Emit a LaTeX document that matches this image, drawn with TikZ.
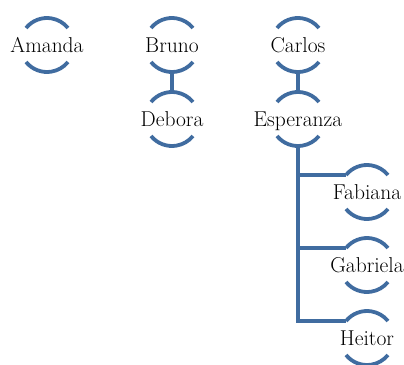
\documentclass[tikz,border=0pt]{standalone}
\usepackage{fontspec}
\usetikzlibrary{calc}
\definecolor{linkblue}{RGB}{64,108,160}
\tikzset{
  person/.style={inner sep=0pt, text height=14.5pt, text depth=0pt,
    font=\fontsize{21.5}{25}\selectfont},
  bracket/.style={draw=linkblue, line width=3.8pt},
  link/.style={draw=linkblue, line width=4.2pt}
}
% top and bottom arcs round a name
\newcommand{\caps}[1]{%
  \draw[bracket] ([shift={(141:27pt)}]#1.center) arc (141:39:27pt);
  \draw[bracket] ([shift={(219:27pt)}]#1.center) arc (219:321:27pt);
}
\begin{document}
\begin{tikzpicture}[x=1pt,y=-1pt]
\useasboundingbox (0,0) rectangle (404,364);
\node[person] (amanda) at (47,45) {Amanda};
\node[person] (bruno) at (172,45) {Bruno};
\node[person] (debora) at (172,119) {Debora};
\node[person] (carlos) at (298,45) {Carlos};
\node[person] (esperanza) at (298,119) {Esperanza};
\node[person] (fabiana) at (367,192) {Fabiana};
\node[person] (gabriela) at (367,265) {Gabriela};
\node[person] (heitor) at (367,338) {Heitor};
\foreach \n in {amanda,bruno,debora,carlos,esperanza,fabiana,gabriela,heitor}{\caps{\n}}
% couples
\draw[link] ([yshift=-27pt]bruno.center) -- ([yshift=27pt]debora.center);
\draw[link] ([yshift=-27pt]carlos.center) -- ([yshift=27pt]esperanza.center);
% children hang from a trunk below Esperanza
\coordinate (esp-foot) at ([yshift=-26pt]esperanza.center);
\foreach \n in {fabiana,gabriela,heitor}{
  \coordinate (\n-in) at ([shift={(141:27pt)}]\n.center);
}
\draw[link] (esp-foot) -- (esp-foot |- heitor-in) -- (heitor-in);
\draw[link] (esp-foot |- fabiana-in) -- (fabiana-in);
\draw[link] (esp-foot |- gabriela-in) -- (gabriela-in);
\end{tikzpicture}
\end{document}
